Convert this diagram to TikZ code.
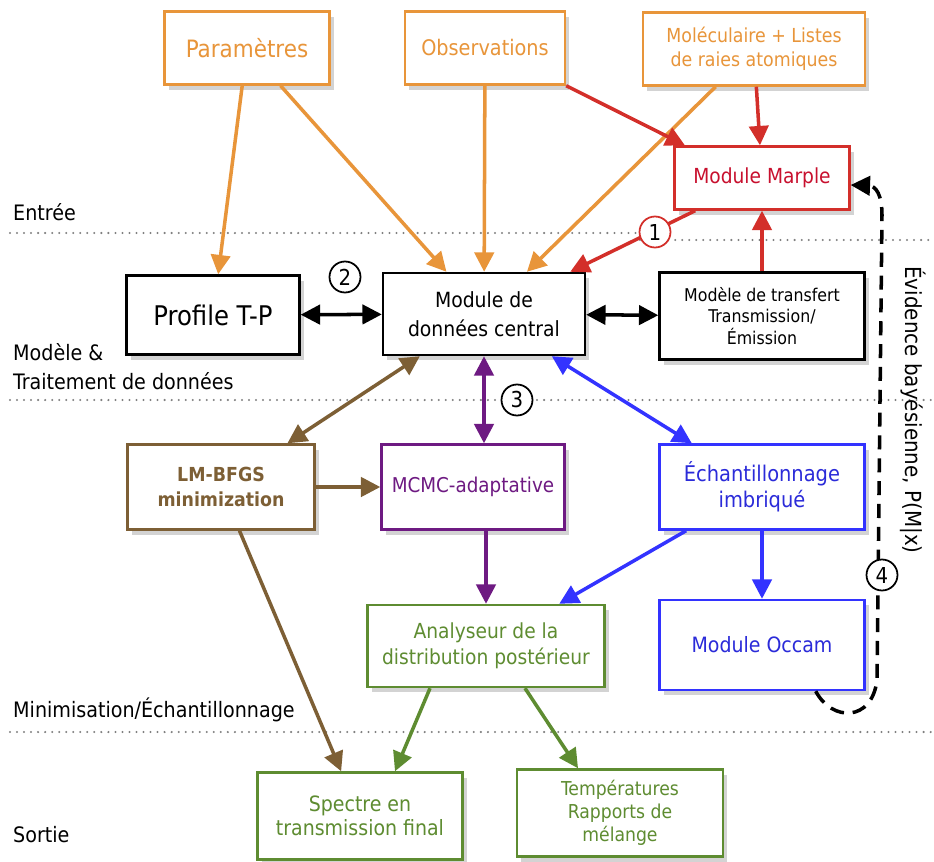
\documentclass[tikz,border=0pt]{standalone}
\usepackage{fontspec}
\setmainfont{DejaVu Sans Condensed}
\usetikzlibrary{arrows.meta, shadows}
\definecolor{inorange}{RGB}{232,149,58}
\definecolor{marplered}{RGB}{211,47,42}
\definecolor{marpletext}{RGB}{200,16,46}
\definecolor{lmbrown}{RGB}{125,95,53}
\definecolor{mcpurple}{RGB}{110,26,130}
\definecolor{nsblue}{RGB}{51,51,255}
\definecolor{outgreen}{RGB}{94,140,49}
\tikzset{
>={Triangle[length=11pt,width=11pt]}, % big filled arrow heads
box/.style={draw, line width=1.4pt, fill=white, align=center, inner sep=2pt,
  drop shadow={shadow xshift=2.5pt, shadow yshift=-3pt, opacity=.35}}, % every block of the diagram
fs/.style 2 args={font=\fontsize{#1}{#2}\selectfont}, % font size and line spacing
flow/.style={line width=2pt}, % the arrows between blocks
num/.style={circle, draw, line width=1pt, fill=white, inner sep=0pt, minimum size=0.62cm, fs={12.5}{13}}, % circled step numbers
sepline/.style={gray, line width=1.3pt, dash pattern=on 0pt off 4pt, line cap=round}, % dotted lines between the stages
}

\begin{document}
\begin{tikzpicture}[x=0.02cm, y=-0.02cm]
  \useasboundingbox (0,0) rectangle (934,862);

  % stages
  \draw[sepline] (10,233) -- (640,233);
  \draw[sepline] (640,240) -- (934,240);
  \draw[sepline] (10,400) -- (934,400);
  \draw[sepline] (10,732) -- (934,732);
  \node[anchor=west, fs={12.1}{16.5}] (entree) at (7,212) {Entrée};
  \node[anchor=west, align=left, fs={12.1}{16.5}] (modele) at (7,367) {Modèle \&\\Traitement de données};
  \node[anchor=west, fs={12.1}{16.5}] (minim) at (7,710) {Minimisation/Échantillonnage};
  \node[anchor=west, fs={12.1}{16.5}] (sortie) at (7,835) {Sortie};

  % inputs
  \node[box, draw=inorange, text=inorange, fs={13.6}{15}, minimum width=3.3cm, minimum height=1.46cm] (param) at (247,48) {Paramètres};
  \node[box, draw=inorange, text=inorange, fs={12.2}{14}, minimum width=3.2cm, minimum height=1.46cm] (obs) at (485,48) {Observations};
  \node[box, draw=inorange, text=inorange, fs={11}{13.6}, minimum width=4.44cm, minimum height=1.46cm] (molec) at (754,49) {Moléculaire + Listes\\de raies atomiques};
  \node[box, draw=marplered, text=marpletext, fs={11.8}{14}, minimum width=3.5cm, minimum height=1.26cm] (marple) at (762,178) {Module Marple};

  % model
  \node[box, fs={15.4}{16}, minimum width=3.46cm, minimum height=1.58cm] (profile) at (213,315) {Profile T-P};
  \node[box, fs={11.9}{16.4}, minimum width=4.04cm, minimum height=1.64cm] (central) at (484,314) {Module de\\données central};
  \node[box, fs={10}{12.2}, minimum width=4.1cm, minimum height=1.74cm] (transfert) at (762,316) {Modèle de transfert\\Transmission/\\Émission};

  % sampling
  \node[box, draw=lmbrown, text=lmbrown, font={\fontsize{11}{14.7}\selectfont\bfseries}, minimum width=3.74cm, minimum height=1.7cm] (lm) at (221,487) {LM-BFGS\\minimization};
  \node[box, draw=mcpurple, text=mcpurple, fs={11.6}{13}, minimum width=3.66cm, minimum height=1.7cm] (mcmc) at (473,487) {MCMC-adaptative};
  \node[box, draw=nsblue, text=nsblue!85!black, fs={12.3}{14.7}, minimum width=4.1cm, minimum height=1.7cm] (ech) at (762,487) {Échantillonnage\\imbriqué};
  \node[box, draw=outgreen, text=outgreen, fs={11.8}{14.7}, minimum width=4.74cm, minimum height=1.64cm] (ana) at (486,646) {Analyseur de la\\distribution postérieur};
  \node[box, draw=nsblue, text=nsblue!85!black, fs={12}{14}, minimum width=4.1cm, minimum height=1.8cm] (occam) at (762,645) {Module Occam};

  % outputs
  \node[box, draw=outgreen, text=outgreen, fs={12}{14}, minimum width=4.1cm, minimum height=1.74cm] (spectre) at (360,816) {Spectre en\\transmission final};
  \node[box, draw=outgreen, text=outgreen, fs={10.9}{13}, minimum width=4.12cm, minimum height=1.74cm] (temp) at (620,813) {Températures\\Rapports de\\mélange};

  \path[flow, inorange, ->] (param) edge (profile)
  (param) edge (central)
  (obs) edge (central)
  (molec) edge (central);
  \path[flow, marplered, ->] (molec) edge (marple)
  (obs.south east) edge (marple.157)
  (marple) edge (central)
  (transfert) edge (marple);
  \path[flow, <->] (profile) edge (central)
  (central) edge (transfert);
  \path[flow, lmbrown, <->] (central) edge (lm);
  \path[flow, lmbrown, ->] (lm) edge (mcmc)
  (lm) edge (spectre);
  \draw[flow, mcpurple, <->] (central.south) -- (central.south |- mcmc.north);
  \draw[flow, mcpurple, ->] (ana.north |- mcmc.south) -- (ana.north);
  \path[flow, nsblue, <->] (central) edge (ech);
  \path[flow, nsblue, ->] (ech) edge (ana)
  (ech) edge (occam);
  \path[flow, outgreen, ->] ([xshift=-1.12cm]ana.south) edge ([xshift=0.7cm]spectre.north)
  ([xshift=0.78cm]ana.south) edge ([xshift=-0.84cm]temp.north);

  % bayesian evidence loop
  \coordinate (loopstart) at ([xshift=-1cm]occam.south east);
  \draw[flow, dash pattern=on 8pt off 5pt, ->] (loopstart) .. controls (832,722) and (872,722) .. (877,680)
  -- (882,215) .. controls (882,195) and (876,186) .. ([yshift=-0.14cm]marple.east);
  \node[rotate=-90, fs={12.6}{13}] (evid) at (913,410) {Évidence bayésienne, P(M|x)};

  % step numbers
  \node[num, draw=marplered] (n1) at (655,232) {1};
  \node[num] (n2) at (345,277) {2};
  \node[num] (n3) at (517,400) {3};
  \node[num] (n4) at (882,575) {4};
\end{tikzpicture}
\end{document}
